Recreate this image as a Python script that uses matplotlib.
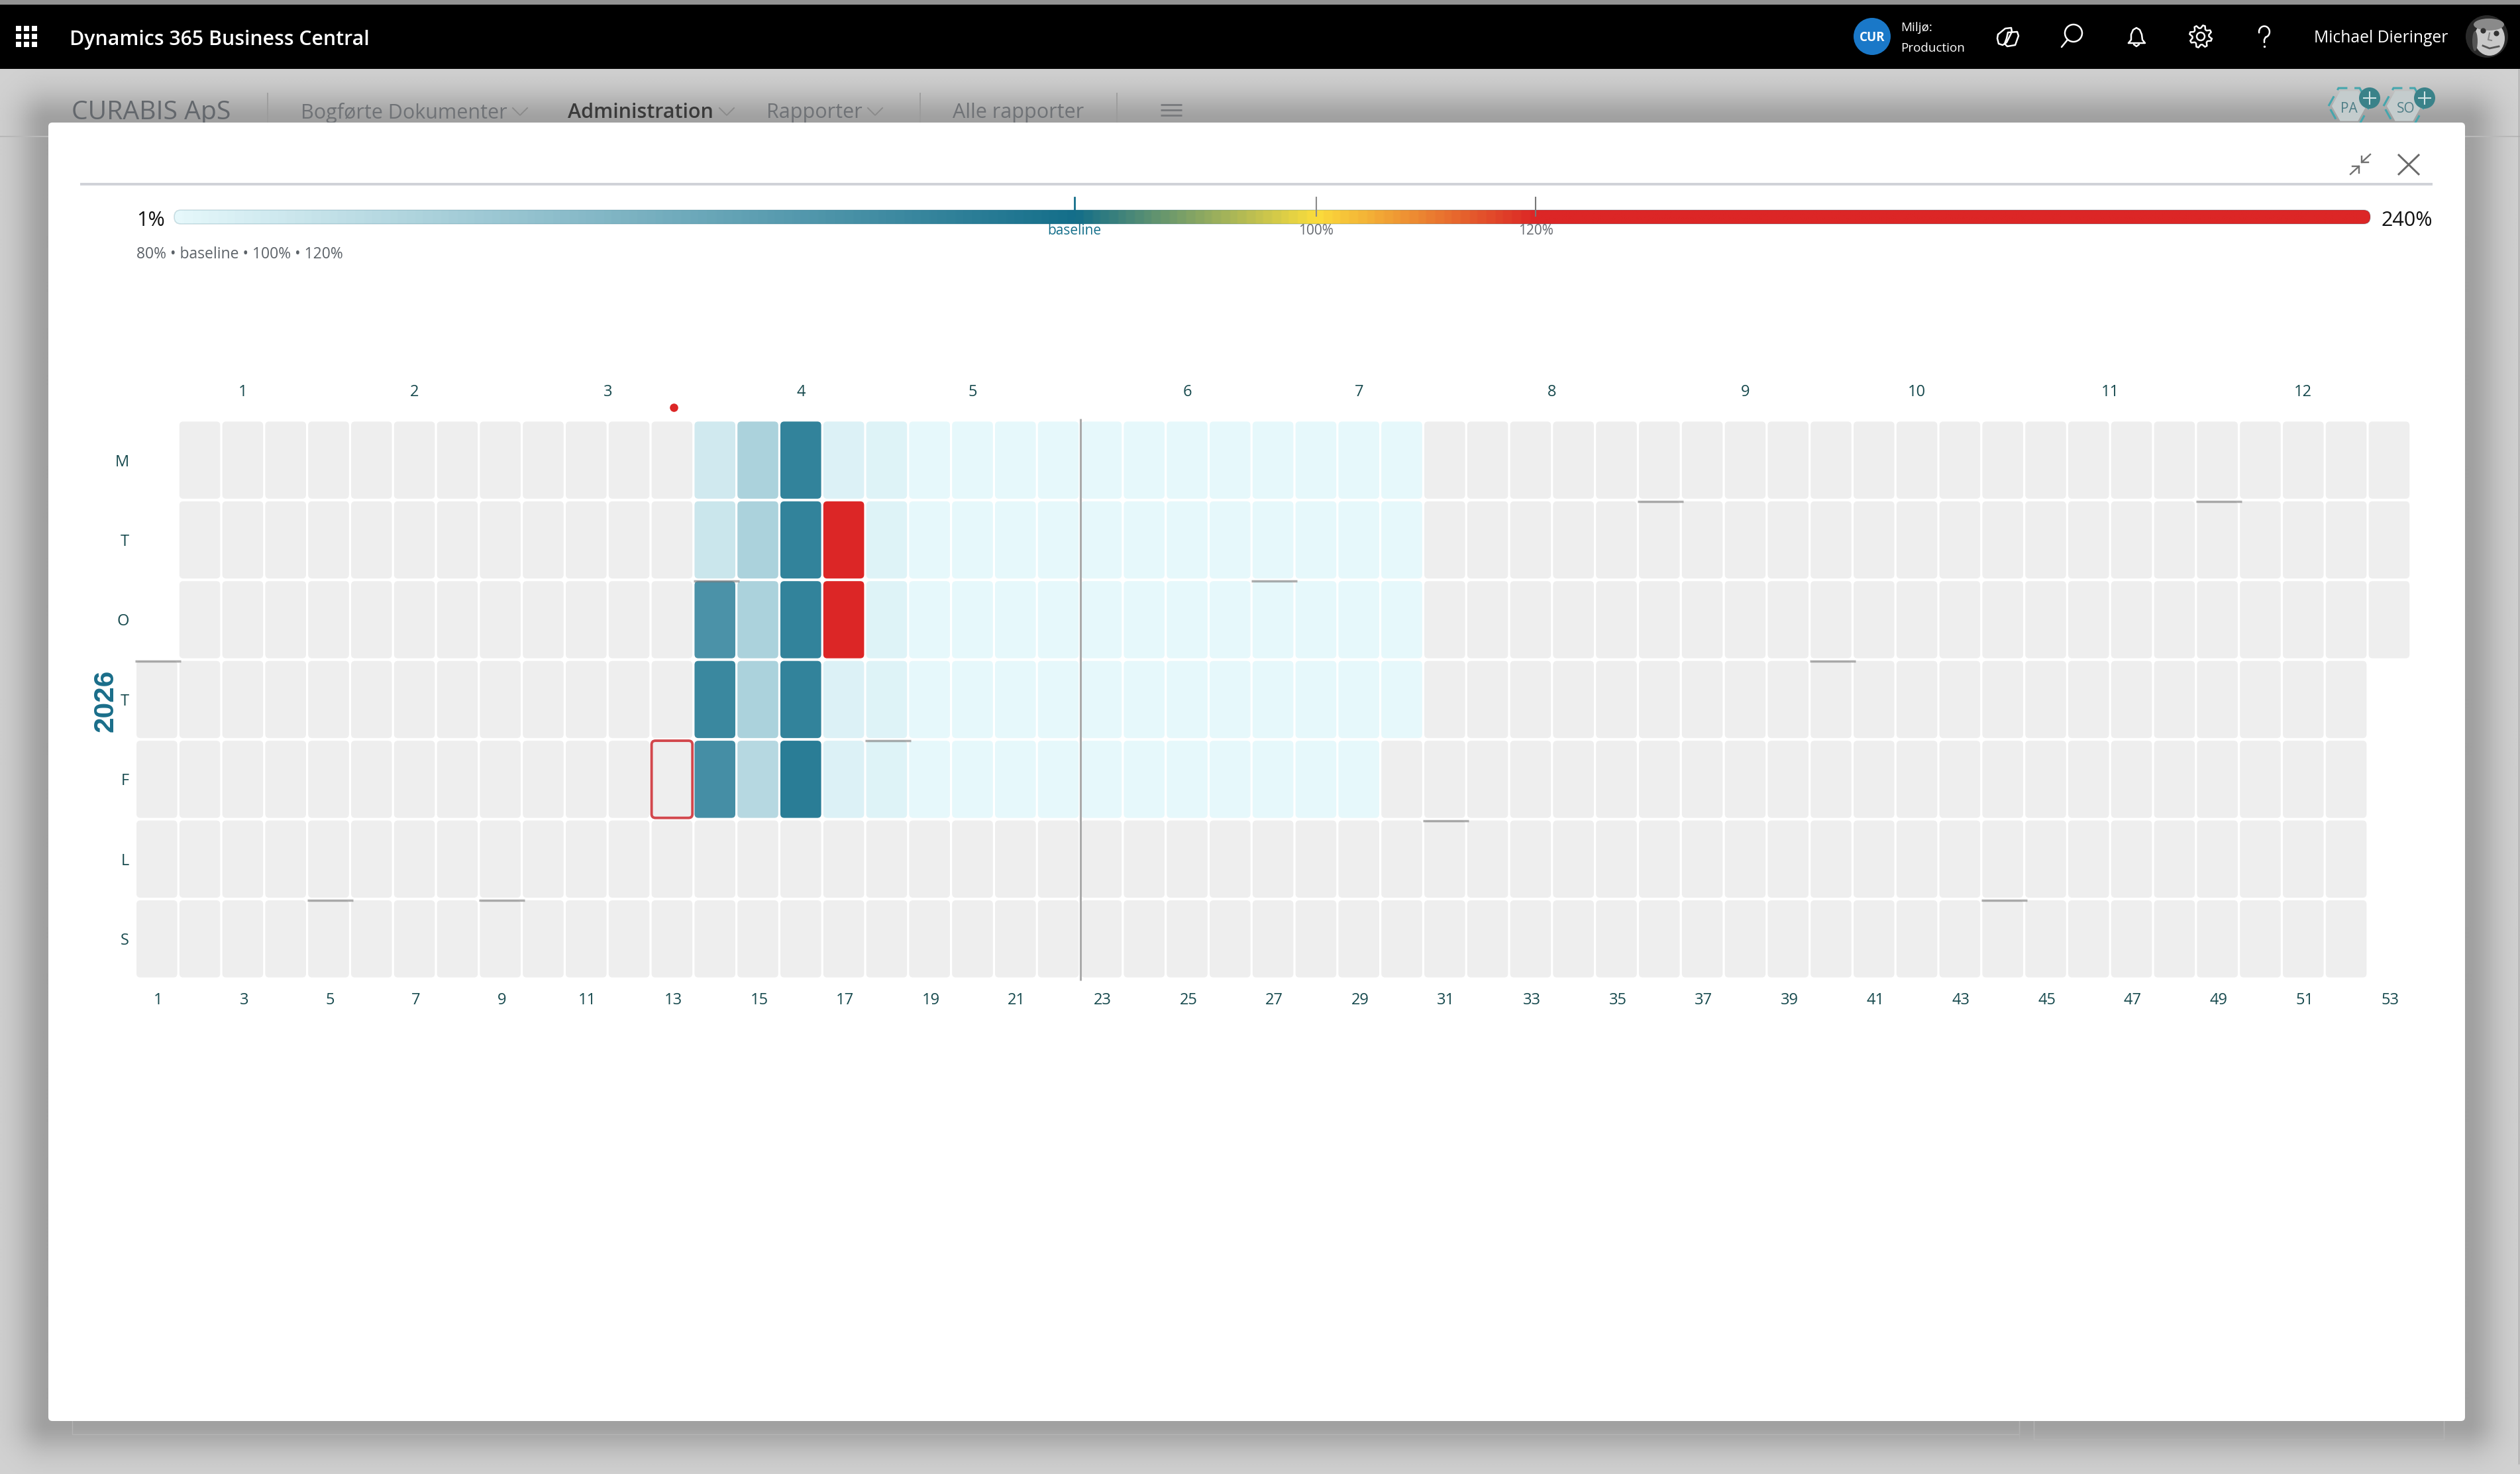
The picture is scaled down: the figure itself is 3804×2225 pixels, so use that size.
import numpy as np
import matplotlib
matplotlib.use("Agg")
import matplotlib.pyplot as plt
from matplotlib.colors import LinearSegmentedColormap, FuncNorm
from matplotlib.patches import FancyBboxPatch, Circle, Ellipse, Polygon, Rectangle

# ---------- data ----------
day_labels = ["M", "T", "O", "T", "F", "L", "S"]
week_ticks = list(range(1, 54, 2))
month_labels = ["1", "2", "3", "4", "5", "6", "7", "8", "9", "10", "11", "12"]
month_positions = [3, 7, 11.5, 16, 20, 25, 29, 33.5, 38, 42, 46.5, 51]
row_first_week = [2, 2, 2, 1, 1, 1, 1]
row_last_week = [53, 53, 53, 52, 52, 52, 52]
first_active_week = 14
mon_values = [9.3, 23.2, 68.3, 4.8, 4.2, 1.4, 1.4, 1.4, 1.4, 1.4, 1.4, 1.4, 1.4, 1.4, 1.4, 1.4, 1.4]
tue_values = [11.9, 23.2, 68.3, 240, 4.2, 1.4, 1.4, 1.4, 1.4, 1.4, 1.4, 1.4, 1.4, 1.4, 1.4, 1.4, 1.4]
wed_values = [59.7, 23.2, 68.3, 190, 4.2, 1.4, 1.4, 1.4, 1.4, 1.4, 1.4, 1.4, 1.4, 1.4, 1.4, 1.4, 1.4]
thu_values = [65.7, 23.2, 68.3, 4.8, 4.2, 1.4, 1.4, 1.4, 1.4, 1.4, 1.4, 1.4, 1.4, 1.4, 1.4, 1.4, 1.4]
fri_values = [61.9, 19.1, 71.7, 4.8, 4.2, 1.4, 1.4, 1.4, 1.4, 1.4, 1.4, 1.4, 1.4, 1.4, 1.4, 1.4]
active_rows = [mon_values, tue_values, wed_values, thu_values, fri_values]
month_break_weeks = [1, 5, 9, 14, 18, 27, 31, 36, 40, 44, 49]
month_break_rows = [3, 6, 6, 2, 4, 2, 5, 1, 3, 6, 1]
today_week = 22.5
selected_week, selected_row = 13, 4
legend_values = [80, 100, 120]
legend_names = ["baseline", "100%", "120%"]
scale_values = [1, 80, 100, 120, 240]
scale_positions = [0, 0.41, 0.52, 0.62, 1]
scale_colors = ["#e6f8fb", "#136e8a", "#fbdd3c", "#dc2626", "#dc2626"]

# ---------- setup ----------
W, H = 3804, 2225
plt.rcParams["font.family"] = ["Open Sans", "DejaVu Sans"]
fig = plt.figure(figsize=(W / 100, H / 100), dpi=100)


def axes_px(x0, y0, x1, y1, **kw):
    return fig.add_axes([x0 / W, 1 - y1 / H, (x1 - x0) / W, (y1 - y0) / H], **kw)


cmap = LinearSegmentedColormap.from_list("load", list(zip(scale_positions, scale_colors)))
norm = FuncNorm((lambda v: np.interp(v, scale_values, scale_positions),
                 lambda p: np.interp(p, scale_positions, scale_values)), vmin=1, vmax=240)

# ---------- window chrome (pixel coordinates) ----------
bg = axes_px(0, 0, W, H, zorder=0)
bg.set_xlim(0, W)
bg.set_ylim(H, 0)
bg.axis("off")
MX0, MX1, MY0, MY1 = 73, 3721, 185, 2145
yy, xx = np.mgrid[0:H:2, 0:W:2]
dx = np.maximum(np.maximum(MX0 - xx, xx - MX1), 0)
dy = np.maximum(np.maximum(MY0 - yy, yy - MY1), 0)
dist = np.hypot(dx, dy)
shade = 0.82 - 0.195 * np.exp(-(dist / 46.0) ** 2)
bg.imshow(shade, cmap="gray", vmin=0, vmax=1, extent=(0, W, H, 0), aspect="auto", zorder=0,
          interpolation="bilinear")
bg.add_patch(Rectangle((0, 0), W, 7, fc="#939393", ec="none", zorder=1))
bg.add_patch(Rectangle((0, 7), W, 97, fc="#000000", ec="none", zorder=1))
bg.hlines(206, 0, W, color="#b8b8b8", lw=1.5, zorder=1)
bg.vlines(3802, 104, 2210, color="#a8a8a8", lw=1, zorder=1)
for x0, x1, yb in [(109, 3048, 2165), (3070, 3689, 2173)]:
    bg.plot([x0, x0, x1, x1], [2140, yb, yb, 2140], color="#b4b4b4", lw=1, zorder=1)
bg.vlines(3048, 2140, 2173, color="#b0b0b0", lw=1, zorder=1)

# waffle
wx, wy = np.meshgrid([28, 40, 52], [43, 55, 67])
bg.scatter(wx.ravel(), wy.ravel(), s=30, c="white", marker="s", linewidths=0, zorder=2)
bg.text(105, 60, "Dynamics 365 Business Central", color="white", fontsize=21.8, fontweight=600,
        va="center", ha="left", zorder=2)
bg.add_patch(Circle((2826, 55), 28, fc="#1a78c8", ec="none", zorder=2))
bg.text(2826, 57, "CUR", color="white", fontsize=13.5, fontweight="bold", ha="center", va="center", zorder=3)
bg.text(2869, 42, "Miljø:", color="white", fontsize=13.6, ha="left", va="center", zorder=2)
bg.text(2869, 73, "Production", color="white", fontsize=13.6, ha="left", va="center", zorder=2)
bg.text(3493, 58, "Michael Dieringer", color="white", fontsize=17.8, ha="left", va="center", zorder=2)
# header icons
ic = dict(color="white", lw=1.8, zorder=2, solid_capstyle="round", solid_joinstyle="round")
bg.plot([3016, 3027, 3036, 3037, 3029, 3023, 3017, 3015, 3016], [52, 43, 42, 48, 64, 68, 66, 58, 52], **ic)
bg.plot([3031, 3045, 3047, 3042, 3030, 3026, 3029, 3031], [49, 48, 54, 68, 70, 66, 58, 49], **ic)
bg.add_patch(Circle((3130, 50), 13, fc="none", ec="white", lw=1.8, zorder=2))
bg.plot([3121, 3112], [60, 71], **ic)
bell_x = [3213, 3217, 3217, 3220, 3225, 3230, 3233, 3234, 3238, 3213]
bell_y = [65, 60, 52, 45, 42, 45, 52, 60, 65, 65]
bg.plot(bell_x, bell_y, **ic)
bg.plot([3221, 3225, 3229], [67, 70, 67], **ic)
gear_ang = np.linspace(0, 2 * np.pi, 33)
gear_rad = np.where(np.mod(np.arange(33), 4) < 2, 17, 12.5)
bg.plot(3322 + gear_rad * np.cos(gear_ang + 0.2), 55 + gear_rad * np.sin(gear_ang + 0.2), **ic)
bg.add_patch(Circle((3322, 55), 6, fc="none", ec="white", lw=1.8, zorder=3))
q_ang = np.linspace(-3.3, 1.3, 20)
bg.plot(3418 + 8 * np.cos(q_ang), 48 + 8.5 * np.sin(q_ang), **ic)
bg.plot([3420, 3418, 3418], [56, 60, 64], **ic)
bg.scatter([3418], [70], s=6, c="white", linewidths=0, zorder=2)
# avatar
bg.add_patch(Circle((3754, 55), 32, fc="#2a2a2a", ec="none", zorder=2))
bg.add_patch(Ellipse((3758, 58), 46, 52, fc="#c9c9c9", ec="none", zorder=3))
bg.add_patch(Ellipse((3757, 37), 46, 18, fc="#8a8a8a", ec="none", zorder=3))
bg.add_patch(Ellipse((3736, 62), 8, 30, fc="#555555", ec="none", zorder=4))
bg.scatter([3748, 3768], [46, 50], s=35, c="#333333", linewidths=0, zorder=4)
bg.plot([3748, 3758, 3772], [69, 73, 70], color="#555555", lw=2, zorder=4)
bg.plot([3758, 3756, 3761], [50, 60, 61], color="#888888", lw=1.5, zorder=4)

# navigation
nav = "#6f7276"
bg.text(108, 170, "CURABIS ApS", color="#63676c", fontsize=28.2, ha="left", va="center", zorder=2)
bg.text(454, 170, "Bogførte Dokumenter", color=nav, fontsize=22, ha="left", va="center", zorder=2)
bg.text(857, 170, "Administration", color="#3a3a3a", fontsize=22, fontweight=600, ha="left", va="center", zorder=2)
bg.text(1157, 170, "Rapporter", color=nav, fontsize=22, ha="left", va="center", zorder=2)
bg.text(1438, 170, "Alle rapporter", color=nav, fontsize=22, ha="left", va="center", zorder=2)
for cx in (785, 1097, 1321):
    bg.plot([cx - 11, cx, cx + 11], [163, 174, 163], color="#8a8a8a", lw=1.3, zorder=2)
bg.vlines([404, 1389, 1686], 140, 185, color="#9a9a9a", lw=1.2, zorder=2)
bg.hlines([158, 166, 174], 1752, 1784, color="#77797c", lw=2, zorder=2)
# PA / SO badges
for cx, lab, tx in ((3546, "PA", 3546), (3629, "SO", 3632)):
    hexa = np.array([(-31, 160), (-16, 133), (16, 133), (31, 160), (16, 187), (-16, 187)], float)
    outer = hexa + [cx, 0]
    inner = np.column_stack([hexa[:, 0] * 0.84 + cx, (hexa[:, 1] - 160) * 0.84 + 160])
    bg.add_patch(Polygon(inner, closed=True, fc="#c4cccd", ec="none", zorder=2))
    bg.add_patch(Polygon(outer, closed=True, fc="none", ec="#45a6ad", lw=2.2, ls=(0, (5.5, 3.5)), zorder=2))
    bg.text(tx, 164, lab, color="#4e7d86", fontsize=15, ha="center", va="center", zorder=3)
    bg.add_patch(Circle((cx + 31, 148), 16, fc="#3a8289", ec="none", zorder=3))
    bg.hlines(148, cx + 21, cx + 41, color="#d5e5e7", lw=1.5, zorder=4)
    bg.vlines(cx + 31, 138, 158, color="#d5e5e7", lw=1.5, zorder=4)

# modal
bg.add_patch(FancyBboxPatch((MX0, MY0), MX1 - MX0, MY1 - MY0, boxstyle="round,pad=0,rounding_size=6",
                            fc="white", ec="none", zorder=5))
bg.add_patch(Rectangle((121, 276), 3672 - 121, 4, fc="#d0d2d8", ec="none", zorder=6))
bg.plot([3621, 3651], [234, 263], color="#6a6a6a", lw=2.1, zorder=6)
bg.plot([3621, 3651], [263, 234], color="#6a6a6a", lw=2.1, zorder=6)
gi = dict(color="#707070", lw=1.7, zorder=6)
bg.plot([3578, 3565], [233, 245], **gi)
bg.plot([3565, 3565, 3575], [236, 245, 245], **gi)
bg.plot([3548, 3561], [263, 251], **gi)
bg.plot([3551, 3561, 3561], [251, 251, 261], **gi)

# ---------- scale bar ----------
bar_left, bar_right, bar_top, bar_bot = 263, 3578, 317, 338
bar = axes_px(bar_left, bar_top, bar_right, bar_bot, zorder=2)
bar.set_xlim(0, 1)
bar.set_ylim(0, 1)
bar.axis("off")
positions = np.linspace(0, 1, 1200)
gradient = np.atleast_2d(norm.inverse(positions))
im = bar.imshow(gradient, cmap=cmap, norm=norm, extent=(0, 1, 0, 1), aspect="auto", interpolation="bilinear")
clip = FancyBboxPatch((bar_left, bar_top), bar_right - bar_left, bar_bot - bar_top,
                      boxstyle="round,pad=0,rounding_size=10", transform=bg.transData, fc="none", ec="none")
im.set_clip_path(clip)
bar.add_patch(FancyBboxPatch((bar_left, bar_top), bar_right - bar_left, bar_bot - bar_top,
                             boxstyle="round,pad=0,rounding_size=10", transform=bg.transData,
                             fc="none", ec=(0.06, 0.35, 0.44, 0.18), lw=1.2, clip_on=False, zorder=3))
tick_cols = ["#136e8a", "#8a8a8a", "#777777"]
text_cols = ["#136e8a", "#666a70", "#666a70"]
for val, name, tc, txc in zip(legend_values, legend_names, tick_cols, text_cols):
    p = float(norm(val))
    bar.plot([p, p], [(338 - 298) / 21, (338 - 326) / 21], color=tc, lw=2 if name == "baseline" else 1.5,
             clip_on=False, zorder=5)
    bar.text(p, (338 - 348.5) / 21, name, color=txc, fontsize=15, ha="center", va="center", clip_on=False)
bg.text(206, 333, "1%", color="#111111", fontsize=22, ha="left", va="center", zorder=6)
bg.text(3594, 333, "240%", color="#111111", fontsize=22, ha="left", va="center", zorder=6)
bg.text(206, 384, "80% • baseline • 100% • 120%", color="#5c6268", fontsize=16.5, ha="left", va="center", zorder=6)

# ---------- heatmap ----------
PX, PY = 64.8, 120.45
GRID_X0 = 206 - (PX - 61.6) / 2
GRID_Y0 = 636.3 - (PY - 116.5) / 2
ax = axes_px(GRID_X0, GRID_Y0, GRID_X0 + 53 * PX, GRID_Y0 + 7 * PY, zorder=3)
ax.patch.set_alpha(0)
ax.set_xlim(0.5, 53.5)
ax.set_ylim(6.5, -0.5)
for s in ax.spines.values():
    s.set_visible(False)
cw, ch = 61.6 / PX, 116.5 / PY
aspect = PX / PY


def cell(week, row, **kw):
    return FancyBboxPatch((week - cw / 2, row - ch / 2), cw, ch,
                          boxstyle="round,pad=0,rounding_size=0.09", mutation_aspect=aspect, **kw)


for r, (first, last) in enumerate(zip(row_first_week, row_last_week)):
    vals = active_rows[r] if r < len(active_rows) else []
    for w in range(first, last + 1):
        i = w - first_active_week
        if 0 <= i < len(vals):
            col = cmap(norm(vals[i]))
        else:
            col = "#eeeeee"
        ax.add_patch(cell(w, r, fc=col, ec="none"))
ax.add_patch(cell(selected_week, selected_row, fc="#eeeeee", ec="#d2474c", lw=2.8, zorder=4))
ax.scatter([selected_week + 0.04], [-0.5 - 19 / PY], s=82, c="#dc2626", linewidths=0, clip_on=False, zorder=5)
for w, r in zip(month_break_weeks, month_break_rows):
    ax.plot([w - 0.5, w + 0.565], [r - 0.5 + 2 / PY, r - 0.5 + 2 / PY], color="#777777", alpha=0.6, lw=2.5,
            solid_capstyle="butt", clip_on=False, zorder=5)
ax.vlines(today_week + 0.02, -0.52, 6.52, color="#aaaaaa", lw=2.2, clip_on=False, zorder=6)

lab_col = "#174a4e"
ax.set_xticks([w + 0.03 for w in week_ticks], [str(w) for w in week_ticks])
ax.set_yticks(range(7), day_labels)
ax.tick_params(axis="x", length=0, pad=15, labelsize=17, labelcolor=lab_col)
ax.tick_params(axis="y", length=0, pad=7, labelsize=17, labelcolor=lab_col)
top = ax.secondary_xaxis("top")
top.set_xticks(month_positions, month_labels)
top.tick_params(axis="x", length=0, pad=22, labelsize=17, labelcolor=lab_col)
for s in top.spines.values():
    s.set_visible(False)
bg.text(159, 1058, "2026", color="#1a6e8a", fontsize=30.5, fontweight="bold", rotation=90,
        ha="center", va="center", zorder=6, family=["Liberation Sans"])

fig.savefig("out.png", dpi=100)
